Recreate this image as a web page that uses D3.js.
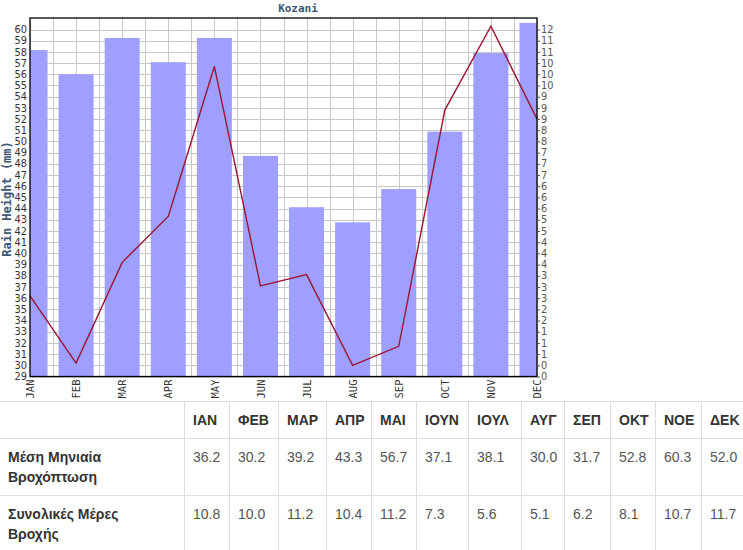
<!DOCTYPE html>
<html>
<head>
<meta charset="utf-8">
<script src="https://cdn.jsdelivr.net/npm/d3@7"></script>
<style>
  body { margin: 0; background: #fff; font-family: "Liberation Sans", Arial, sans-serif; }
  #chart { display: block; }
  table.stats {
    border-collapse: separate;
    border-spacing: 0;
    table-layout: fixed;
    width: 748px;
    font-size: 14px;
    line-height: 20px;
    color: #555;
  }
  table.stats th, table.stats td {
    padding: 8px;
    border-top: 1px solid #ddd;
    border-left: 1px solid #ddd;
    text-align: left;
    vertical-align: top;
    box-sizing: border-box;
  }
  table.stats th { color: #333; font-weight: bold; }
  table.stats .rowhead { color: #333; font-weight: bold; border-left: none; padding-right: 16px; }
</style>
</head>
<body>
<svg id="chart"></svg>
<table class="stats" id="stats"></table>
<script>
const months = ["JAN", "FEB", "MAR", "APR", "MAY", "JUN", "JUL", "AUG", "SEP", "OCT", "NOV", "DEC"];
const monthsGr = ["ΙΑΝ", "ΦΕΒ", "ΜΑΡ", "ΑΠΡ", "ΜΑΙ", "ΙΟΥΝ", "ΙΟΥΛ", "ΑΥΓ", "ΣΕΠ", "ΟΚΤ", "ΝΟΕ", "ΔΕΚ"];
// mean monthly rain height (mm) -> line, left axis
const rainHeight = [36.2, 30.2, 39.2, 43.3, 56.7, 37.1, 38.1, 30.0, 31.7, 52.8, 60.3, 52.0];
// total rain days -> bars, right axis
const rainDays = [10.8, 10.0, 11.2, 10.4, 11.2, 7.3, 5.6, 5.1, 6.2, 8.1, 10.7, 11.7];
const leftTicks = d3.range(29, 61);
const rightLabels = [0, 0, 1, 1, 1, 2, 2, 3, 3, 3, 4, 4, 4, 5, 5, 6, 6, 6, 7, 7, 7, 8, 8, 9, 9, 9, 10, 10, 10, 11, 11, 12];
const rowLabels = ["Μέση Μηνιαία Βροχόπτωση", "Συνολικές Μέρες Βροχής"];

const W = 743, H = 401;
const plot = { left: 30, right: 537, top: 18, bottom: 376.5 };

const svg = d3.select("#chart").attr("width", W).attr("height", H);

const x = d3.scalePoint().domain(months).range([plot.left, plot.right]);
const xGrid = d3.scaleLinear().domain([0, months.length - 1]).range([plot.left, plot.right]);
const yLeft = d3.scaleLinear().domain([29, 61.03]).range([plot.bottom, plot.top]);
const yRight = d3.scaleLinear().domain([0, 11.86]).range([plot.bottom, plot.top]);
const step = x.step();
const barW = step * 0.76;

svg.append("defs").append("clipPath").attr("id", "plotclip")
  .append("rect")
  .attr("x", plot.left).attr("y", plot.top)
  .attr("width", plot.right - plot.left).attr("height", plot.bottom - plot.top);

// grid
const grid = svg.append("g").attr("stroke", "#c8c8c8").attr("stroke-width", 1);
grid.selectAll(".hg").data(leftTicks).enter().append("line")
  .attr("x1", plot.left).attr("x2", plot.right)
  .attr("y1", d => Math.round(yLeft(d)) + 0.5).attr("y2", d => Math.round(yLeft(d)) + 0.5);
grid.selectAll(".vg").data(d3.range(0, months.length - 0.5, 0.5)).enter().append("line")
  .attr("y1", plot.top).attr("y2", plot.bottom)
  .attr("x1", d => Math.round(xGrid(d)) + 0.5).attr("x2", d => Math.round(xGrid(d)) + 0.5);

// bars
svg.append("g").attr("clip-path", "url(#plotclip)")
  .selectAll(".bar")
  .data(rainDays)
  .enter().append("rect")
  .attr("class", "bar")
  .attr("x", (d, i) => x(months[i]) - barW / 2)
  .attr("y", d => yRight(d))
  .attr("width", barW)
  .attr("height", d => plot.bottom - yRight(d))
  .attr("fill", "#9f9fff");

// line
const line = d3.line()
  .x((d, i) => x(months[i]))
  .y(d => yLeft(d));
svg.append("path")
  .datum(rainHeight)
  .attr("d", line)
  .attr("fill", "none")
  .attr("stroke", "#9b1530")
  .attr("stroke-width", 1.4);

// frame
svg.append("rect")
  .attr("x", plot.left).attr("y", plot.top)
  .attr("width", plot.right - plot.left).attr("height", plot.bottom - plot.top)
  .attr("fill", "none").attr("stroke", "#000").attr("stroke-width", 1.3);

// left axis
const gl = svg.append("g")
  .attr("transform", "translate(" + plot.left + ",0)")
  .call(d3.axisLeft(yLeft).tickValues(leftTicks).tickSize(0).tickPadding(3));
gl.select(".domain").remove();
gl.selectAll("text").attr("font-family", "DejaVu Sans").attr("font-size", 9.8).attr("fill", "#333");

// right axis
const gr = svg.append("g")
  .attr("transform", "translate(" + plot.right + ",0)")
  .call(d3.axisRight(yLeft).tickValues(leftTicks).tickFormat((d, i) => rightLabels[i]).tickSize(3).tickPadding(1));
gr.select(".domain").remove();
gr.selectAll("line").attr("stroke", "#555");
gr.selectAll("text").attr("font-family", "DejaVu Sans").attr("font-size", 9.8).attr("fill", "#555");

// x axis
const gx = svg.append("g")
  .attr("transform", "translate(0," + plot.bottom + ")")
  .call(d3.axisBottom(x).tickSize(0).tickPadding(0));
gx.select(".domain").remove();
gx.selectAll("text")
  .attr("font-family", "DejaVu Sans Mono")
  .attr("font-size", 10.5)
  .attr("fill", "#333")
  .style("text-anchor", "end")
  .attr("dx", "-3")
  .attr("dy", "0.35em")
  .attr("y", 0)
  .attr("transform", "rotate(-90)");

// titles
svg.append("text")
  .attr("x", 298).attr("y", 12)
  .attr("text-anchor", "middle")
  .attr("font-family", "DejaVu Sans Mono").attr("font-weight", "bold").attr("font-size", 11)
  .attr("fill", "#3b5777")
  .text("Kozani");
svg.append("text")
  .attr("transform", "translate(11,199) rotate(-90)")
  .attr("text-anchor", "middle")
  .attr("font-family", "DejaVu Sans Mono").attr("font-weight", "bold").attr("font-size", 12)
  .attr("fill", "#3b5777")
  .text("Rain Height (mm)");

// table
const colW = [184, 45, 49, 48, 45, 45, 52, 53, 43, 46, 45, 46, 47];
const table = d3.select("#stats");
table.append("colgroup").selectAll("col").data(colW).enter().append("col")
  .style("width", d => d + "px");
const head = table.append("thead").append("tr");
head.append("th").attr("class", "rowhead").html("&nbsp;");
head.selectAll(".m").data(monthsGr).enter().append("th").attr("class", "m").text(d => d);
const body = table.append("tbody");
[rainHeight, rainDays].forEach((vals, r) => {
  const tr = body.append("tr");
  tr.append("td").attr("class", "rowhead").text(rowLabels[r]);
  tr.selectAll(".v").data(vals).enter().append("td").attr("class", "v").text(d => d.toFixed(1));
});
</script>
</body>
</html>
